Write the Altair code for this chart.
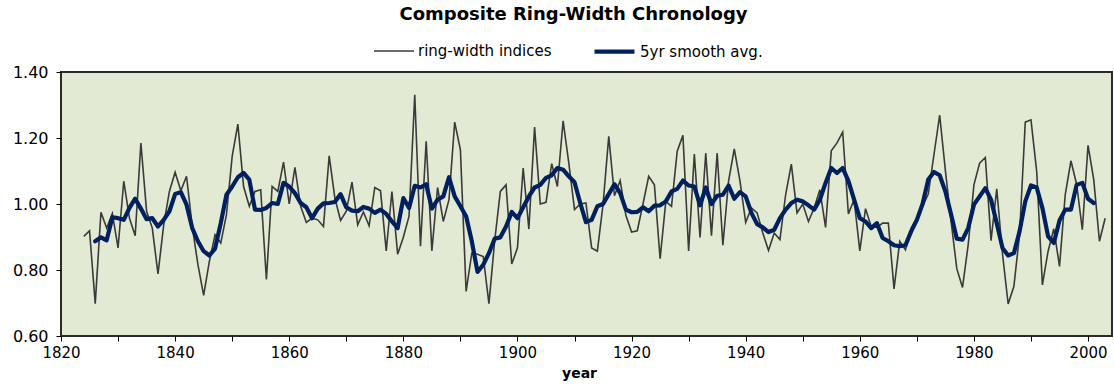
import altair as alt
import pandas as pd

# Composite ring-width chronology: annual indices and 5-year smoothed average
FIRST_YEAR = 1824
ring_width = [
    0.902, 0.919, 0.698, 0.975, 0.927, 0.971, 0.867, 1.069, 0.957, 0.904,
    1.185, 0.978, 0.927, 0.788, 0.937, 1.038, 1.096, 1.040, 1.084, 0.932,
    0.816, 0.723, 0.826, 0.907, 0.882, 0.968, 1.144, 1.242, 1.053, 0.993,
    1.038, 1.043, 0.771, 1.053, 1.038, 1.127, 1.000, 1.111, 0.993, 0.944,
    0.957, 0.952, 0.932, 1.146, 1.018, 0.950, 0.978, 1.066, 0.937, 0.976,
    0.934, 1.050, 1.040, 0.858, 1.038, 0.848, 0.899, 0.963, 1.331, 0.872,
    1.190, 0.858, 1.050, 0.947, 1.013, 1.248, 1.164, 0.735, 0.851, 0.848,
    0.841, 0.698, 0.887, 1.038, 1.058, 0.818, 0.867, 1.109, 0.924, 1.233,
    1.000, 1.005, 1.122, 1.053, 1.252, 1.124, 0.983, 1.000, 1.003, 0.867,
    0.857, 0.998, 1.205, 1.025, 1.071, 0.966, 0.915, 0.919, 1.000, 1.084,
    1.058, 0.834, 1.008, 0.993, 1.160, 1.208, 0.858, 1.151, 0.899, 1.154,
    0.904, 1.154, 0.875, 1.069, 1.167, 1.069, 0.944, 0.988, 0.973, 0.912,
    0.859, 0.912, 0.892, 1.028, 1.121, 0.973, 1.000, 0.947, 0.988, 1.043,
    0.929, 1.161, 1.185, 1.218, 0.970, 1.013, 0.858, 0.986, 0.932, 0.929,
    0.942, 0.942, 0.743, 0.887, 0.861, 0.927, 0.957, 0.993, 1.030, 1.150,
    1.269, 1.101, 0.947, 0.804, 0.747, 0.877, 1.058, 1.124, 1.141, 0.889,
    1.046, 0.850, 0.697, 0.750, 0.907, 1.248, 1.255, 1.099, 0.755, 0.857,
    0.925, 0.811, 1.028, 1.131, 1.060, 0.922, 1.178, 1.074, 0.887, 0.957,
]

SMOOTH_FIRST_YEAR = 1826
smooth_avg = [
    0.887, 0.899, 0.890, 0.960, 0.957, 0.952, 0.988, 1.016, 0.986, 0.954,
    0.957, 0.932, 0.952, 0.978, 1.030, 1.036, 0.998, 0.927, 0.887, 0.857,
    0.844, 0.865, 0.942, 1.028, 1.053, 1.081, 1.094, 1.074, 0.983, 0.982,
    0.988, 1.003, 1.000, 1.064, 1.053, 1.033, 1.003, 0.990, 0.957, 0.986,
    1.002, 1.003, 1.006, 1.030, 0.990, 0.980, 0.978, 0.991, 0.986, 0.973,
    0.983, 0.970, 0.947, 0.927, 1.018, 0.988, 1.055, 1.050, 1.060, 0.986,
    1.013, 1.023, 1.081, 1.023, 0.993, 0.963, 0.887, 0.794, 0.816, 0.851,
    0.895, 0.899, 0.932, 0.976, 0.957, 0.990, 1.023, 1.050, 1.058, 1.079,
    1.087, 1.109, 1.104, 1.084, 1.066, 1.003, 0.945, 0.952, 0.993, 1.000,
    1.030, 1.060, 1.033, 0.983, 0.975, 0.976, 0.990, 0.978, 0.995, 0.996,
    1.008, 1.038, 1.046, 1.071, 1.056, 1.053, 0.996, 1.050, 1.000, 1.025,
    1.028, 1.056, 1.016, 1.036, 1.023, 0.973, 0.939, 0.929, 0.915, 0.922,
    0.957, 0.983, 1.003, 1.013, 1.008, 0.996, 0.983, 1.013, 1.064, 1.109,
    1.094, 1.109, 1.070, 1.013, 0.957, 0.947, 0.927, 0.942, 0.897, 0.887,
    0.875, 0.872, 0.875, 0.917, 0.952, 1.000, 1.074, 1.097, 1.087, 1.038,
    0.968, 0.895, 0.892, 0.927, 0.998, 1.023, 1.048, 1.013, 0.942, 0.867,
    0.844, 0.851, 0.917, 1.008, 1.056, 1.050, 0.988, 0.902, 0.882, 0.950,
    0.983, 0.983, 1.058, 1.064, 1.016, 1.003,
]

SERIES = ["ring-width indices", "5yr smooth avg."]
COLORS = ["#3a3a3a", "#002060"]
WIDTHS = [1.6, 4.2]

raw_df = pd.DataFrame({
    "year": [FIRST_YEAR + i for i in range(len(ring_width))],
    "index": ring_width,
    "series": SERIES[0],
})
smooth_df = pd.DataFrame({
    "year": [SMOOTH_FIRST_YEAR + i for i in range(len(smooth_avg))],
    "index": smooth_avg,
    "series": SERIES[1],
})

FONT = "DejaVu Sans"


def series_legend():
    return alt.Legend(
        title=None,
        orient="none",
        direction="horizontal",
        legendX=312,
        legendY=-43,
        symbolType="stroke",
        symbolSize=1600,
        labelFontSize=15,
        labelFont=FONT,
        labelColor="#000000",
        labelOffset=3,
        columnPadding=34,
    )


x_enc = alt.X(
    "year:Q",
    scale=alt.Scale(domain=[1820, 2004.2], nice=False, zero=False),
    axis=alt.Axis(
        values=list(range(1820, 2001, 10)),
        labelExpr="datum.value % 20 == 0 ? datum.label : ''",
        format="d",
        title="year",
        titleX=518,
        grid=False,
        domain=False,
        tickSize=5,
        tickColor="#000000",
        labelFlush=False,
        labelOverlap=False,
        labelPadding=4,
        titlePadding=6,
    ),
)
y_enc = alt.Y(
    "index:Q",
    scale=alt.Scale(domain=[0.6, 1.4], nice=False, zero=False),
    axis=alt.Axis(
        values=[0.6, 0.8, 1.0, 1.2, 1.4],
        format=".2f",
        title=None,
        grid=False,
        domain=False,
        tickSize=5,
        tickColor="#000000",
        labelFlush=False,
        labelFontSize=16,
        labelPadding=8,
    ),
)
color_enc = alt.Color(
    "series:N",
    scale=alt.Scale(domain=SERIES, range=COLORS),
    legend=series_legend(),
)
width_enc = alt.StrokeWidth(
    "series:N",
    scale=alt.Scale(domain=SERIES, range=WIDTHS),
    legend=series_legend(),
)

raw_line = alt.Chart(raw_df).mark_line().encode(
    x=x_enc, y=y_enc, color=color_enc, strokeWidth=width_enc
)
smooth_line = alt.Chart(smooth_df).mark_line(strokeJoin="round", strokeCap="round").encode(
    x=x_enc, y=y_enc, color=color_enc, strokeWidth=width_enc
)

chart = (
    alt.layer(raw_line, smooth_line)
    .properties(
        width=1051,
        height=264,
        autosize=alt.AutoSizeParams(type="none"),
        padding={"left": 61, "top": 72, "right": 2, "bottom": 50},
        background="#FFFFFF",
        title=alt.TitleParams(
            "Composite Ring-Width Chronology",
            font=FONT,
            fontSize=18,
            fontWeight="bold",
            color="#000000",
            anchor="middle",
            offset=5,
            dx=-13,
        ),
    )
    .configure_view(fill="#E2EAD3", stroke="#2b2b2b", strokeWidth=2)
    .configure_axis(
        labelFont=FONT,
        labelFontSize=15,
        labelColor="#000000",
        titleFont=FONT,
        titleFontSize=14,
        titleFontWeight="bold",
        titleColor="#000000",
    )
)

chart.save("out.html", embed_options={"renderer": "svg", "actions": False})
